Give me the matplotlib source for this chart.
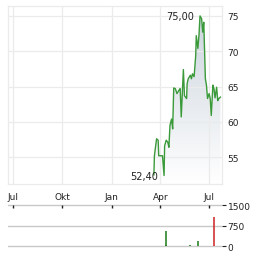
import numpy as np
import pandas as pd
import matplotlib
matplotlib.use("Agg")
import matplotlib.pyplot as plt
import matplotlib.dates as mdates
from matplotlib.patches import Polygon

# price series
price_dates = ["2024-03-20", "2024-03-21", "2024-03-25", "2024-03-28", "2024-03-29",
               "2024-04-05", "2024-04-08", "2024-04-09", "2024-04-12", "2024-04-15",
               "2024-04-17", "2024-04-19", "2024-04-22", "2024-04-24", "2024-04-26",
               "2024-04-29", "2024-05-02", "2024-05-06", "2024-05-08", "2024-05-10",
               "2024-05-14", "2024-05-16", "2024-05-20", "2024-05-21", "2024-05-23",
               "2024-05-27", "2024-05-29", "2024-05-31", "2024-06-03", "2024-06-06",
               "2024-06-07", "2024-06-10", "2024-06-12", "2024-06-14", "2024-06-17",
               "2024-06-19", "2024-06-21", "2024-06-24", "2024-06-26", "2024-06-28",
               "2024-07-01", "2024-07-03", "2024-07-05", "2024-07-08", "2024-07-10",
               "2024-07-12", "2024-07-15", "2024-07-17", "2024-07-19", "2024-07-22"]
price_values = [52.5, 55.2, 57.6, 57.4, 55.2,
                55.2, 52.4, 56.6, 57.4, 57.1,
                56.4, 59.5, 60.4, 59.0, 64.8,
                64.7, 64.0, 64.5, 64.7, 60.7,
                67.4, 63.7, 63.3, 65.4, 66.1,
                66.6, 66.1, 66.8, 66.4, 69.4,
                72.2, 70.4, 72.2, 75.0, 74.6,
                72.7, 74.1, 66.1, 65.2, 63.3,
                64.0, 63.3, 60.9, 65.2, 64.7,
                63.4, 64.9, 63.0, 63.3, 63.5]

# volume bars
vol_dates = ["2024-04-11", "2024-04-12", "2024-05-10", "2024-05-24", "2024-05-27",
             "2024-06-10", "2024-07-11"]
vol_values = [40, 560, 25, 30, 35, 190, 1070]
vol_colors = ["#1a7a1a", "#1a7a1a", "#cc2222", "#1a7a1a", "#1a7a1a", "#1a7a1a", "#cc2222"]

tick_dates = ["2023-07-01", "2023-10-01", "2024-01-01", "2024-04-01", "2024-07-01"]
tick_labels = ["Jul", "Okt", "Jan", "Apr", "Jul"]
price_ticks = [55, 60, 65, 70, 75]
vol_ticks = [0, 750, 1500]

x = mdates.date2num(pd.to_datetime(price_dates))
y = np.array(price_values)
xticks = mdates.date2num(pd.to_datetime(tick_dates))
xlim = (mdates.date2num(pd.Timestamp("2023-06-22")), mdates.date2num(pd.Timestamp("2024-07-25")))
ylim = (51.2, 76.4)

plt.rcParams["font.family"] = "DejaVu Sans"
txt = "#222222"
grid_c = "#ebebeb"

fig = plt.figure(figsize=(2.64, 2.55), dpi=100)
ax = fig.add_axes([8 / 264, 70 / 255, 214 / 264, 178 / 255])
ax.set_xlim(*xlim)
ax.set_ylim(*ylim)

# gradient fill under the line
grad = np.linspace(0, 1, 256).reshape(-1, 1)
top_c = np.array([0.80, 0.835, 0.87])
bot_c = np.array([1.0, 1.0, 1.0])
img = top_c * grad + bot_c * (1 - grad)
im = ax.imshow(img.reshape(256, 1, 3), extent=[x.min(), x.max(), ylim[0], y.max()],
               origin="lower", aspect="auto", zorder=1)
poly = Polygon(np.column_stack([np.r_[x[0], x, x[-1]], np.r_[ylim[0], y, ylim[0]]]),
               closed=True, facecolor="none", edgecolor="none")
ax.add_patch(poly)
im.set_clip_path(poly)
ax.plot(x, y, color="#3a9a3a", lw=1.0, zorder=3)

ax.set_xticks(xticks)
ax.set_xticklabels(tick_labels)
ax.set_yticks(price_ticks)
ax.yaxis.tick_right()
ax.tick_params(axis="both", length=0, labelsize=6.5, colors=txt)
ax.tick_params(axis="x", pad=6)
ax.tick_params(axis="y", pad=4)
ax.grid(True, color=grid_c, lw=0.9, zorder=0)
for s in ax.spines.values():
    s.set_color(grid_c)
    s.set_linewidth(0.9)

imax = int(np.argmax(y))
imin = int(np.argmin(y))
ax.annotate(f"{y[imax]:.2f}".replace(".", ","), (x[imax], y[imax]), xytext=(-4, 0),
            textcoords="offset points", ha="right", va="center", fontsize=7, color=txt)
ax.annotate(f"{y[imin]:.2f}".replace(".", ","), (x[imin], y[imin]), xytext=(-4, 0),
            textcoords="offset points", ha="right", va="center", fontsize=7, color=txt)

# volume panel
vx = fig.add_axes([8 / 264, 6 / 255, 214 / 264, 45 / 255])
vx.set_xlim(*xlim)
vx.set_ylim(-60, 1580)
for v in vol_ticks:
    vx.axhline(v, color="#c8c8c8", lw=1.0, zorder=1)
vx.vlines(mdates.date2num(pd.to_datetime(vol_dates)), 0, vol_values, colors=vol_colors,
          lw=1.1, zorder=3)
vx.vlines(xticks, 1400, 1500, colors=txt, lw=1.0, zorder=4)
vx.set_yticks(vol_ticks)
vx.yaxis.tick_right()
vx.tick_params(axis="x", bottom=False, labelbottom=False)
vx.tick_params(axis="y", length=3, width=0.8, pad=1, labelsize=6.5, colors=txt)
for s in vx.spines.values():
    s.set_visible(False)

fig.savefig("out.png", dpi=100)
